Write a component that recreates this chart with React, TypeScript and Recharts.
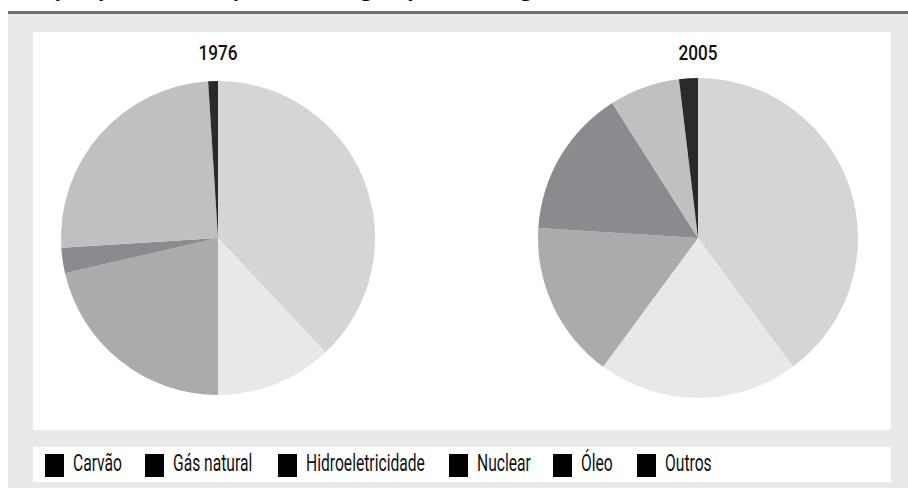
import { PieChart, Pie, Cell } from 'recharts';

const categories = ['Carvão', 'Gás natural', 'Hidroeletricidade', 'Nuclear', 'Óleo', 'Outros'];
const share1976 = [38.0, 12.0, 21.4, 2.6, 25.0, 1.0];
const share2005 = [39.9, 20.2, 15.9, 15.0, 7.1, 1.9];
const sliceColors = ['#d4d5d7', '#e8e8e8', '#a9abad', '#8a8b8e', '#bfc0c2', '#2a2a2c'];
const years = ['1976', '2005'];

// posicao x de cada quadrado da legenda (dentro da caixa branca)
const legendX = [12, 112, 245, 416, 520, 604];

const toRows = (values: number[]) => categories.map((name, i) => ({ name, value: values[i] }));

const font = "Roboto, 'Noto Sans', sans-serif";

export default function App() {
  const data1976 = toRows(share1976);
  const data2005 = toRows(share2005);

  return (
    <div style={{ position: 'absolute', left: 0, top: 0, width: 908, height: 488, overflow: 'hidden', background: '#fff' }}>
      <div
        style={{
          position: 'absolute',
          left: 10,
          top: -21,
          fontFamily: "'Open Sans', sans-serif",
          fontWeight: 700,
          fontSize: 20,
          lineHeight: '20px',
          whiteSpace: 'nowrap',
          color: '#111',
        }}
      >
        Composição da oferta por fonte de geração de energia elétrica no mundo (%; 1976 e 2005)
      </div>
      <div style={{ position: 'absolute', left: 8, top: 11, width: 900, height: 3, background: '#6f6f6f' }} />
      <div style={{ position: 'absolute', left: 8, top: 14, width: 900, height: 474, background: '#e9e9e9' }} />

      <div style={{ position: 'absolute', left: 33, top: 32, width: 858, height: 398, background: '#fff' }}>
        <PieChart width={858} height={398} margin={{ top: 0, right: 0, bottom: 0, left: 0 }}>
          <text x={185} y={28} textAnchor="middle" fontFamily={font} fontWeight={500} fontSize={21} fill="#111"
            textLength={39} lengthAdjust="spacingAndGlyphs">
            {years[0]}
          </text>
          <text x={665} y={28} textAnchor="middle" fontFamily={font} fontWeight={500} fontSize={21} fill="#111"
            textLength={39} lengthAdjust="spacingAndGlyphs">
            {years[1]}
          </text>
          <Pie
            data={data1976}
            dataKey="value"
            nameKey="name"
            cx={185}
            cy={206}
            outerRadius={157}
            startAngle={90}
            endAngle={-270}
            stroke="none"
            isAnimationActive={false}
          >
            {data1976.map((d, i) => (
              <Cell key={d.name} fill={sliceColors[i]} />
            ))}
          </Pie>
          <Pie
            data={data2005}
            dataKey="value"
            nameKey="name"
            cx={665}
            cy={206}
            outerRadius={160}
            startAngle={90}
            endAngle={-270}
            stroke="none"
            isAnimationActive={false}
          >
            {data2005.map((d, i) => (
              <Cell key={d.name} fill={sliceColors[i]} />
            ))}
          </Pie>
        </PieChart>
      </div>

      <div
        style={{
          position: 'absolute',
          left: 33,
          top: 447,
          width: 858,
          height: 35,
          background: '#fff',
          fontFamily: font,
          fontSize: 23,
          color: '#111',
        }}
      >
        {categories.map((c, i) => (
          <div key={c}>
            <div style={{ position: 'absolute', left: legendX[i], top: 7, width: 19, height: 23, background: '#000' }} />
            <span
              style={{
                position: 'absolute',
                left: legendX[i] + 28,
                top: 3,
                lineHeight: '28px',
                whiteSpace: 'nowrap',
                transform: 'scaleX(0.68)',
                transformOrigin: 'left center',
              }}
            >
              {c}
            </span>
          </div>
        ))}
      </div>
    </div>
  );
}
